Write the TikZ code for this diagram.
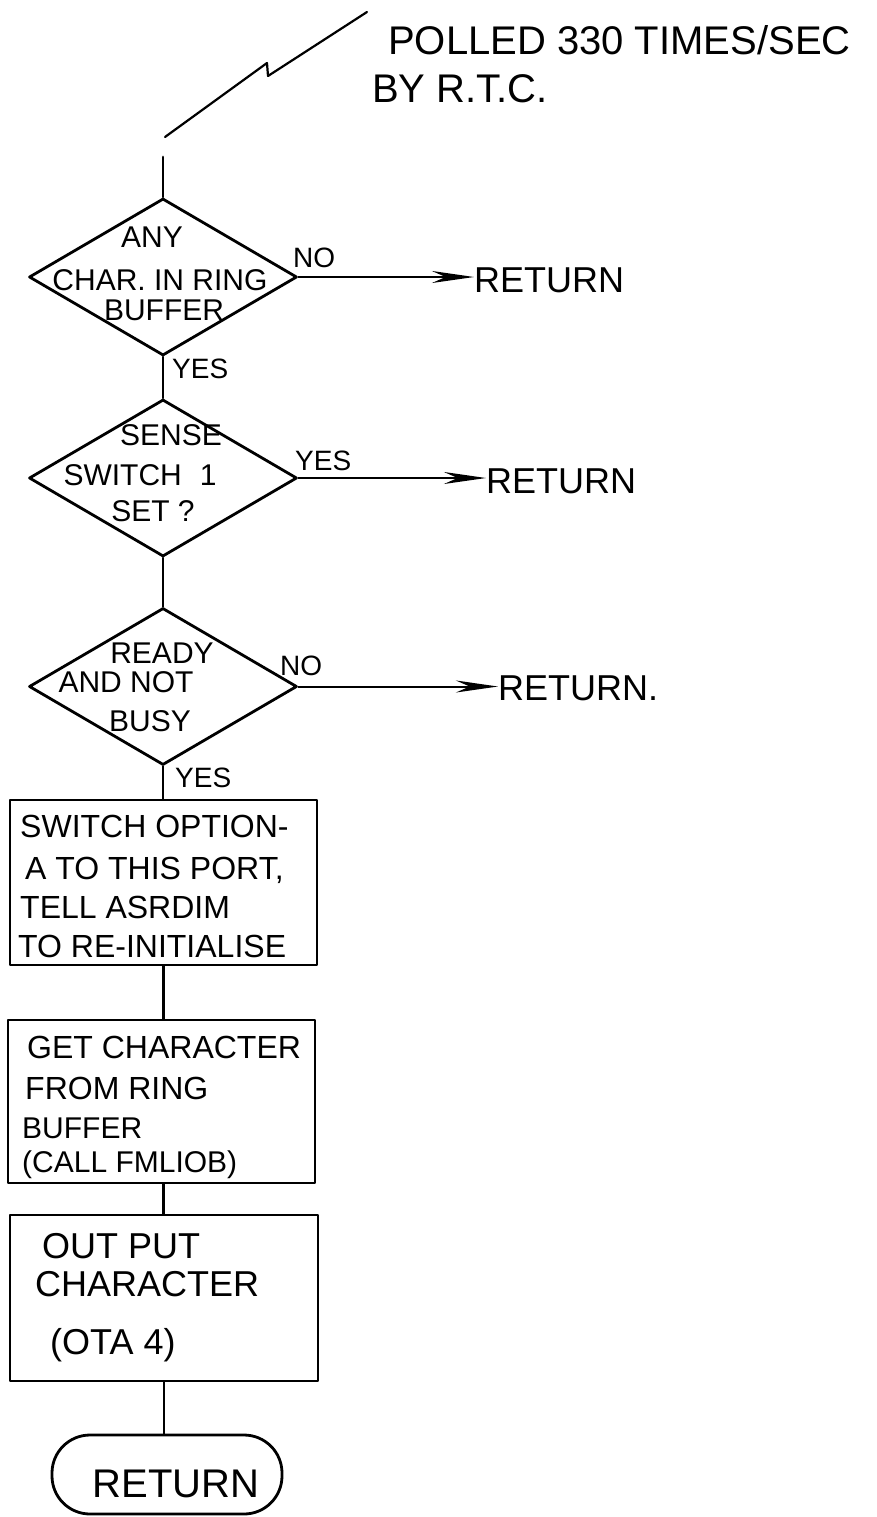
\documentclass[tikz,border=0pt]{standalone}
\usepackage{fontspec}
\setmainfont{Liberation Sans}
\usetikzlibrary{shapes.geometric,arrows.meta}
\begin{document}
\begin{tikzpicture}[x=1pt,y=-1pt,
  flow/.style={line width=2.8pt, line cap=round, line join=round},
  decision/.style={diamond, draw, flow, inner sep=0pt, minimum width=268pt, minimum height=157pt},
  stepbox/.style={rectangle, draw, flow, inner sep=0pt},
  terminal/.style={rectangle, rounded corners=38pt, draw, flow, inner sep=0pt,
    minimum width=230pt, minimum height=79pt},
  exitarrow/.style={line width=2pt, -{Stealth[length=42pt,width=12pt]}},
  dline/.style={font=\fontsize{30}{34}\selectfont, anchor=base, inner sep=0pt},
  bline/.style={font=\fontsize{32}{38}\selectfont, anchor=base west, inner sep=0pt},
  smallbline/.style={font=\fontsize{30}{36}\selectfont, anchor=base west, inner sep=0pt},
  bigline/.style={font=\fontsize{36}{42}\selectfont, anchor=base west, inner sep=0pt},
  answer/.style={font=\fontsize{28}{32}\selectfont, anchor=base west, inner sep=0pt},
  exitlabel/.style={font=\fontsize{36}{42}\selectfont, anchor=base west, inner sep=0pt},
  note/.style={font=\fontsize{40}{46}\selectfont, anchor=base west, inner sep=0pt}]
\useasboundingbox (0,0) rectangle (877,1517);

% entry: lightning stroke from the real-time clock
\coordinate (s0) at (165,137);
\coordinate (s1) at (267,63);
\coordinate (s2) at (268,76);
\coordinate (s3) at (367,12);
\draw[line width=2.2pt, line cap=round, line join=round] (s0) -- (s1) -- (s2) -- (s3);
\node[note] (poll) at (388,55) {POLLED 330 TIMES/SEC};
\node[note] (rtc) at (372,103) {BY R.T.C.};

\coordinate (entry) at (163,157);

% decisions
\node[decision] (d1) at (163,277) {};
\node[decision] (d2) at (163,478) {};
\node[decision] (d3) at (163,686.5) {};

\node[dline] (d1a) at (152,247) {ANY};
\node[dline] (d1b) at (160,290) {CHAR. IN RING};
\node[dline] (d1c) at (164,320) {BUFFER};

\node[dline] (d2a) at (171,445) {SENSE};
\node[dline] (d2b) at (140,485) {SWITCH\hspace{0.6em}1};
\node[dline] (d2c) at (153,521) {SET ?};

\node[dline] (d3a) at (162,663) {READY};
\node[dline] (d3b) at (126,692) {AND NOT};
\node[dline] (d3c) at (150,731) {BUSY};

% branch answers
\node[answer] (no1) at (293,267) {NO};
\node[answer] (yes1) at (172,378) {YES};
\node[answer] (yes2) at (295,470) {YES};
\node[answer] (no3) at (280,675) {NO};
\node[answer] (yes3) at (175,787) {YES};

% exits
\node[exitlabel] (r1) at (474,292) {RETURN};
\node[exitlabel] (r2) at (486,493) {RETURN};
\node[exitlabel] (r3) at (498,700) {RETURN.};

\draw[exitarrow] (d1.east) -- (d1.east -| r1.west);
\draw[exitarrow] (d2.east) -- (d2.east -| r2.west);
\draw[exitarrow] (d3.east) -- (d3.east -| r3.west);

% process steps
\node[stepbox, minimum width=307pt, minimum height=165pt] (b1) at (163.5,882.5) {};
\node[stepbox, minimum width=307pt, minimum height=163pt] (b2) at (161.5,1101.5) {};
\node[stepbox, minimum width=308pt, minimum height=166pt] (b3) at (164,1298) {};
\node[terminal] (t) at (167,1474.5) {};

\node[bline] (b1a) at (20,837) {SWITCH OPTION-};
\node[bline] (b1b) at (25,879) {A TO THIS PORT,};
\node[bline] (b1c) at (20,918) {TELL ASRDIM};
\node[bline] (b1d) at (18,957) {TO RE-INITIALISE};

\node[bline] (b2a) at (27,1058) {GET CHARACTER};
\node[bline] (b2b) at (25,1099) {FROM RING};
\node[smallbline] (b2c) at (22,1138) {BUFFER};
\node[smallbline] (b2d) at (22,1172) {(CALL FMLIOB)};

\node[bigline] (b3a) at (42,1258) {OUT PUT};
\node[bigline] (b3b) at (35,1296) {CHARACTER};
\node[bigline] (b3c) at (50,1354) {(OTA 4)};

\node[font=\fontsize{40}{46}\selectfont, anchor=base, inner sep=0pt] (tt) at (176,1497) {RETURN};

% main flow
\draw[flow] (entry) -- (d1.north);
\draw[flow] (d1.south) -- (d2.north);
\draw[flow] (d2.south) -- (d3.north);
\draw[flow] (d3.south) -- (d3.south |- b1.north);
\draw[flow] (b1.south) -- (b1.south |- b2.north);
\draw[flow] (b2.south -| b1.south) -- (b1.south |- b3.north);
\draw[flow] (b3.south) -- (b3.south |- t.north);
\end{tikzpicture}
\end{document}
